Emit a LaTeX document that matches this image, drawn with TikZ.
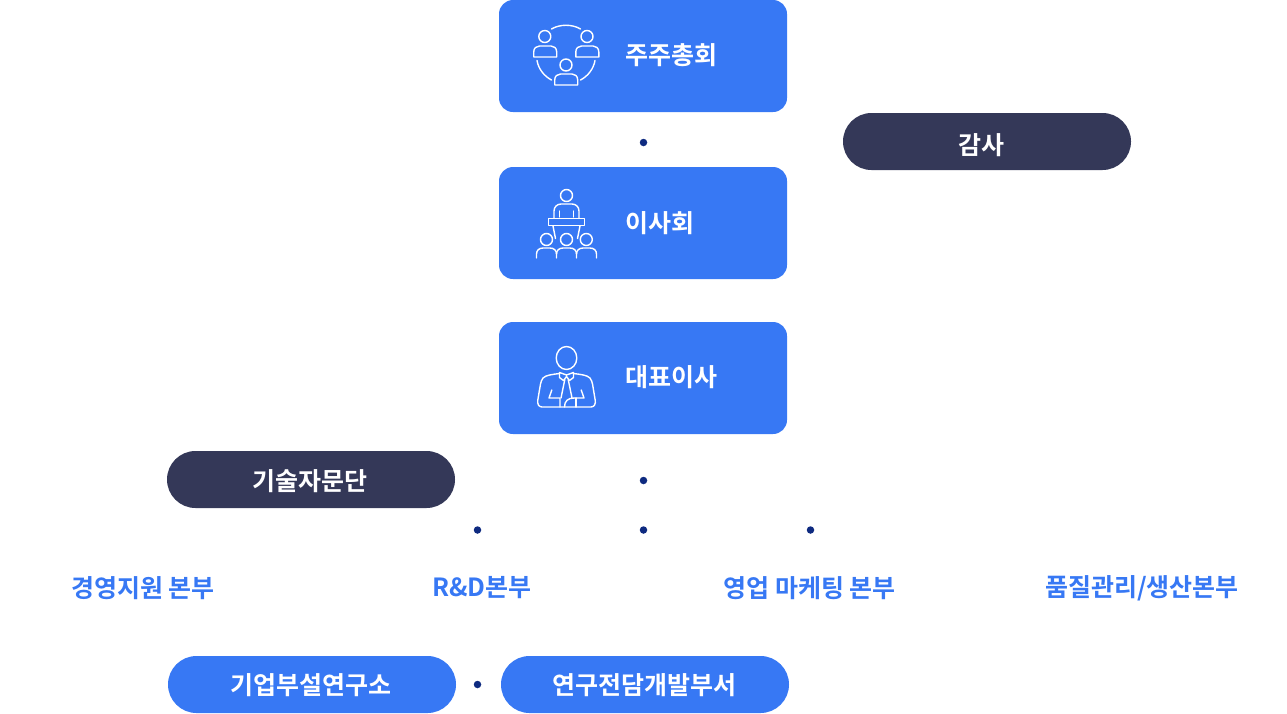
\documentclass[tikz,border=0pt]{standalone}
\usepackage{fontspec}
\setmainfont{Noto Sans CJK KR Bold}[BoldFont=*]
\definecolor{mainblue}{HTML}{3778F4}
\definecolor{darkpill}{HTML}{343858}
\definecolor{dotblue}{HTML}{0E2A80}
\tikzset{
  bigbox/.style={fill=mainblue,rounded corners=14pt,minimum width=288pt,minimum height=112pt,inner sep=0pt},
  pill/.style={rounded corners=28.5pt,minimum width=288pt,minimum height=57pt,inner sep=0pt},
  darkp/.style={pill,fill=darkpill},
  bluep/.style={pill,fill=mainblue},
  pilllabel/.style={text=white,inner sep=0pt,font=\fontsize{25}{30}\selectfont},
  boxlabel/.style={text=white,anchor=west,inner sep=0pt,font=\fontsize{25}{30}\selectfont},
  dept/.style={text=mainblue,inner sep=0pt,font=\fontsize{25}{30}\selectfont},
  dotn/.style={circle,fill=dotblue,minimum size=7.5pt,inner sep=0pt},
  ico/.style={draw=white,line width=1.4pt,line cap=round,line join=round}
}
\begin{document}
\begin{tikzpicture}[x=1pt,y=-1pt]
\useasboundingbox (0,0) rectangle (1287,713);
\node[bigbox] (shareholders) at (643,56) {};
\node[bigbox] (board) at (643,223) {};
\node[bigbox] (ceo) at (643,378) {};
\node[boxlabel] (shl) at (625,55) {주주총회};
\node[boxlabel] (bdl) at (625,223) {이사회};
\node[boxlabel] (ceol) at (625,377) {대표이사};
\node[darkp] (audit) at (987,141.5) {};
\node[pilllabel] (auditl) at (981,145) {감사};
\node[darkp] (advisory) at (311,479.5) {};
\node[pilllabel] (advisoryl) at (310,481) {기술자문단};
\node[dotn] (d1) at (643.5,142.5) {};
\node[dotn] (d2) at (643.5,480.5) {};
\node[dotn] (d3) at (477.5,530) {};
\node[dotn] (d4) at (643.5,530) {};
\node[dotn] (d5) at (810.5,530) {};
\node[dotn] (d6) at (477.5,684.5) {};
\node[dept] (dp1) at (143,588) {경영지원 본부};
\node[dept] (dp2) at (482,588) {R\&D본부};
\node[dept] (dp3) at (809.5,588) {영업 마케팅 본부};
\node[dept] (dp4) at (1142,588) {품질관리/생산본부};
\node[bluep] (lab) at (312,684.5) {};
\node[pilllabel] (labl) at (311,685) {기업부설연구소};
\node[bluep] (rnd) at (645,684.5) {};
\node[pilllabel] (rndl) at (644,685) {연구전담개발부서};
% icon: shareholders
\begin{scope}[ico]
\draw (544.8,36.5) circle (6);
\draw (587,36.5) circle (6);
\draw (566,65) circle (6);
\draw (533.7,57) -- (556.7,57) -- (556.7,52) .. controls (556.7,48) and (554,46) .. (551,46) -- (539.5,46) .. controls (536.5,46) and (533.7,48) .. (533.7,52) -- cycle;
\draw (575.8,57) -- (598.8,57) -- (598.8,52) .. controls (598.8,48) and (596,46) .. (593,46) -- (581.5,46) .. controls (578.5,46) and (575.8,48) .. (575.8,52) -- cycle;
\draw (554.7,85) -- (577.7,85) -- (577.7,80) .. controls (577.7,76) and (575,74) .. (572,74) -- (560.5,74) .. controls (557.5,74) and (554.7,76) .. (554.7,80) -- cycle;
\draw (551.5,29) .. controls (560,24) and (572,24) .. (580.5,29);
\draw (537,60.5) .. controls (538.5,69) and (544,76) .. (551.5,80);
\draw (595,60.5) .. controls (593.5,69) and (588,76) .. (580.5,80);
\end{scope}
% icon: board
\begin{scope}[ico]
\draw (566.5,195.5) circle (6);
\draw (554,218) -- (554,211) .. controls (554,207) and (557,204) .. (561,204) -- (572,204) .. controls (576,204) and (579,207) .. (579,211) -- (579,218);
\draw (559.5,211) -- (559.5,217);
\draw (573.5,211) -- (573.5,217);
\draw (548.7,218.5) rectangle (584.3,225.5);
\draw (553,226) -- (555.5,238.5);
\draw (580,226) -- (577.5,238.5);
\draw (546.5,239.5) circle (6);
\draw (566.5,239.5) circle (6);
\draw (586.3,239.5) circle (6);
\draw (536.5,258) -- (536.5,254) .. controls (536.5,250.5) and (539,248) .. (543,248) -- (550,248) .. controls (554,248) and (556.5,250.5) .. (556.5,254) -- (556.5,258);
\draw (556.5,254) .. controls (556.5,250.5) and (559,248) .. (563,248) -- (570,248) .. controls (574,248) and (576.5,250.5) .. (576.5,254) -- (576.5,258);
\draw (576.5,254) .. controls (576.5,250.5) and (579,248) .. (583,248) -- (590,248) .. controls (594,248) and (596.5,250.5) .. (596.5,254) -- (596.5,258);
\end{scope}
% icon: ceo
\begin{scope}[ico]
\draw (566.5,358) ellipse (10.3 and 11.5);
\draw (559.5,373.5) .. controls (552,374.5) and (546,375) .. (543,378) .. controls (541.5,380) and (541,382) .. (540.5,384) -- (537.8,400) .. controls (537,404) and (539,407) .. (542,407) -- (591,407) .. controls (594,407) and (596,404) .. (595.2,400) -- (592.5,384) .. controls (592,382) and (591.5,380) .. (590,378) .. controls (587,375) and (581,374.5) .. (573.5,373.5);
\draw (559.5,372.5) -- (566.5,375) -- (573.5,372.5) -- (573.5,377.5) -- (569.5,380.5) -- (566.5,376.5) -- (563.5,380.5) -- (559.5,377.5) -- cycle;
\draw (564.8,379.5) -- (561,398);
\draw (568.2,379.5) -- (572,398);
\draw (551.8,390) -- (549,398) -- (560,398) -- (560,407);
\draw (581.2,390) -- (584,398) -- (574,398);
\draw (576,398) -- (576,407);
\draw (564.5,407) .. controls (564.5,401) and (568,398) .. (574,398);
\end{scope}
\end{tikzpicture}
\end{document}
